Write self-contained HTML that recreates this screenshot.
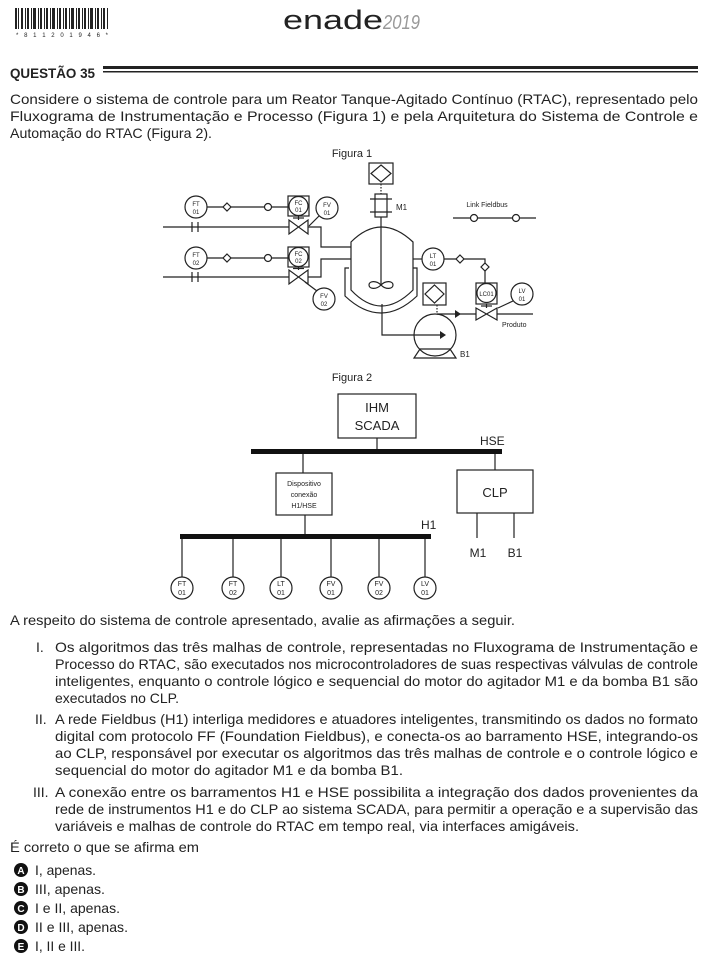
<!DOCTYPE html>
<html><head><meta charset="utf-8"><style>
html,body{margin:0;padding:0;background:#fff;}
svg{display:block;}
text{font-family:"Liberation Sans",sans-serif;fill:#222;}
</style></head><body>
<svg width="709" height="965" viewBox="0 0 709 965" xmlns="http://www.w3.org/2000/svg">
<g fill="#222">
<rect x="15" y="8" width="2" height="21"/><rect x="18" y="8" width="1" height="21"/><rect x="21" y="8" width="2" height="21"/><rect x="25" y="8" width="1" height="21"/><rect x="27" y="8" width="2" height="21"/><rect x="31" y="8" width="1" height="21"/><rect x="33" y="8" width="3" height="21"/><rect x="38" y="8" width="1" height="21"/><rect x="40" y="8" width="2" height="21"/><rect x="44" y="8" width="1" height="21"/><rect x="46" y="8" width="2" height="21"/><rect x="50" y="8" width="1" height="21"/><rect x="52" y="8" width="3" height="21"/><rect x="57" y="8" width="1" height="21"/><rect x="59" y="8" width="2" height="21"/><rect x="63" y="8" width="1" height="21"/><rect x="65" y="8" width="2" height="21"/><rect x="69" y="8" width="1" height="21"/><rect x="71" y="8" width="3" height="21"/><rect x="76" y="8" width="1" height="21"/><rect x="78" y="8" width="2" height="21"/><rect x="82" y="8" width="1" height="21"/><rect x="84" y="8" width="2" height="21"/><rect x="88" y="8" width="1" height="21"/><rect x="90" y="8" width="3" height="21"/><rect x="95" y="8" width="1" height="21"/><rect x="97" y="8" width="2" height="21"/><rect x="101" y="8" width="1" height="21"/><rect x="103" y="8" width="2" height="21"/><rect x="107" y="8" width="1" height="21"/>
</g>
<text x="16" y="37" font-size="6" textLength="92" lengthAdjust="spacing">* 8 1 1 2 0 1 9 4 6 *</text>
<text x="283" y="29" font-size="27" textLength="100" lengthAdjust="spacingAndGlyphs" style="fill:#222">enade</text>
<text x="383" y="29" font-size="20" font-style="italic" textLength="37" lengthAdjust="spacingAndGlyphs" style="fill:#999">2019</text>
<text x="10" y="78" font-size="14" font-weight="bold" textLength="85" lengthAdjust="spacingAndGlyphs">QUESTÃO 35</text>
<rect x="103" y="66" width="595" height="3" fill="#222"/>
<rect x="103" y="71" width="595" height="1.5" fill="#222"/>
<g font-size="14">
<text x="10" y="104" textLength="688" lengthAdjust="spacingAndGlyphs">Considere o sistema de controle para um Reator Tanque-Agitado Contínuo (RTAC), representado pelo</text>
<text x="10" y="121" textLength="688" lengthAdjust="spacingAndGlyphs">Fluxograma de Instrumentação e Processo (Figura 1) e pela Arquitetura do Sistema de Controle e</text>
<text x="10" y="138" textLength="202" lengthAdjust="spacingAndGlyphs">Automação do RTAC (Figura 2).</text>
</g>

<text x="352" y="157" font-size="11" text-anchor="middle">Figura 1</text>
<g stroke="#222" stroke-width="1.2" fill="none">
<rect x="369" y="163" width="24" height="21"/>
<polygon points="381,165 391,173.5 381,182 371,173.5"/>
<line x1="381" y1="184" x2="381" y2="194" stroke-dasharray="1.5,1.5"/>
<rect x="375" y="194" width="12" height="23"/>
<line x1="370" y1="199" x2="392" y2="199"/><line x1="370" y1="212" x2="392" y2="212"/>
<line x1="381" y1="217" x2="381" y2="284"/>
<path d="M381,285 C376,280 369,281 369,285 C369,289 376,290 381,285 C386,280 393,281 393,285 C393,289 386,290 381,285 Z"/>
<path d="M351,290 L351,242 Q381,212 413,242 L413,290 Q381,322 351,290 Z"/>
<path d="M349,268 L345,268 L345,296 Q381,330 417,296 L417,268 L413,268"/>
<line x1="163" y1="227" x2="289" y2="227"/>
<line x1="192" y1="222" x2="192" y2="232"/><line x1="198" y1="222" x2="198" y2="232"/>
<polygon points="289,220 289,234 308,220 308,234" />
<polyline points="308,227 321,227 321,247 351,247"/>
<line x1="163" y1="277" x2="289" y2="277"/>
<line x1="192" y1="272" x2="192" y2="282"/><line x1="198" y1="272" x2="198" y2="282"/>
<polygon points="289,270 289,284 308,270 308,284"/>
<polyline points="308,277 321,277 321,259 351,259"/>
<circle cx="196" cy="207" r="11" fill="#fff"/>
<line x1="207" y1="207" x2="288" y2="207"/>
<rect x="288" y="196" width="21" height="20" fill="#fff"/>
<circle cx="298.5" cy="206" r="9.5"/>
<line x1="298.5" y1="216" x2="298.5" y2="220"/><line x1="293" y1="218" x2="304" y2="218"/>
<circle cx="327" cy="208" r="11" fill="#fff"/>
<line x1="309" y1="226" x2="319" y2="216"/>
<circle cx="196" cy="258" r="11" fill="#fff"/>
<line x1="207" y1="258" x2="288" y2="258"/>
<rect x="288" y="247" width="21" height="20" fill="#fff"/>
<circle cx="298.5" cy="257" r="9.5"/>
<line x1="298.5" y1="267" x2="298.5" y2="270"/><line x1="293" y1="268.5" x2="304" y2="268.5"/>
<circle cx="324" cy="299" r="11" fill="#fff"/>
<line x1="305" y1="282" x2="317" y2="291"/>
<line x1="413" y1="259" x2="422" y2="259"/>
<circle cx="433" cy="259" r="11" fill="#fff"/>
<polyline points="444,259 485,259 485,283"/>
<rect x="476" y="283" width="21" height="21" fill="#fff"/>
<circle cx="486.5" cy="293" r="9.5"/>
<line x1="486.5" y1="304" x2="486.5" y2="308"/><line x1="481" y1="306" x2="492" y2="306"/>
<circle cx="522" cy="294" r="11" fill="#fff"/>
<line x1="498" y1="308" x2="513" y2="301"/>
<polygon points="476,308 476,320 497,308 497,320"/>
<line x1="437" y1="314" x2="476" y2="314"/><line x1="497" y1="314" x2="533" y2="314"/>
<rect x="423" y="283" width="23" height="22"/>
<polygon points="434.5,285 444,294 434.5,303 425,294"/>
<line x1="437" y1="305" x2="437" y2="314" stroke-dasharray="1.5,1.5"/>
<circle cx="435" cy="335" r="21"/>
<polygon points="420,349 450,349 456,358 414,358"/>
<polyline points="382,304 382,335 440,335"/>
<line x1="453" y1="218" x2="536" y2="218"/>
</g>
<g fill="#222">
<polygon points="440,331 446,335 440,339"/>
<polygon points="455,310 461,314 455,318"/>
</g>
<g stroke="#222" stroke-width="1.2" fill="#fff">
<polygon points="227,203 231,207 227,211 223,207"/>
<circle cx="268" cy="207" r="3.5"/>
<polygon points="227,254 231,258 227,262 223,258"/>
<circle cx="268" cy="258" r="3.5"/>
<polygon points="460,255 464,259 460,263 456,259"/>
<polygon points="485,263 489,267 485,271 481,267"/>
<circle cx="474" cy="218" r="3.5"/>
<circle cx="516" cy="218" r="3.5"/>
</g>
<g font-size="6" text-anchor="middle">
<text x="196" y="206">FT</text><text x="196" y="214">01</text>
<text x="298.5" y="205">FC</text><text x="298.5" y="212">01</text>
<text x="327" y="207">FV</text><text x="327" y="215">01</text>
<text x="196" y="257">FT</text><text x="196" y="265">02</text>
<text x="298.5" y="256">FC</text><text x="298.5" y="263">02</text>
<text x="324" y="298">FV</text><text x="324" y="306">02</text>
<text x="433" y="258">LT</text><text x="433" y="266">01</text>
<text x="486.5" y="296">LC01</text>
<text x="522" y="293">LV</text><text x="522" y="301">01</text>
</g>
<text x="396" y="210" font-size="8">M1</text>
<text x="487" y="207" font-size="7" text-anchor="middle">Link Fieldbus</text>
<text x="502" y="327" font-size="7">Produto</text>
<text x="460" y="357" font-size="8">B1</text>

<text x="352" y="381" font-size="11" text-anchor="middle">Figura 2</text>
<g stroke="#222" stroke-width="1.2" fill="none">
<rect x="338" y="394" width="78" height="44"/>
<line x1="377" y1="438" x2="377" y2="451"/>
<line x1="303" y1="451" x2="303" y2="473"/>
<rect x="276" y="473" width="56" height="42"/>
<line x1="305" y1="515" x2="305" y2="536"/>
<line x1="495" y1="451" x2="495" y2="470"/>
<rect x="457" y="470" width="76" height="43"/>
<line x1="477" y1="513" x2="477" y2="538"/>
<line x1="514" y1="513" x2="514" y2="538"/>
<line x1="182" y1="536" x2="182" y2="577"/>
<line x1="233" y1="536" x2="233" y2="577"/>
<line x1="281" y1="536" x2="281" y2="577"/>
<line x1="331" y1="536" x2="331" y2="577"/>
<line x1="379" y1="536" x2="379" y2="577"/>
<line x1="425" y1="536" x2="425" y2="577"/>
<circle cx="182" cy="588" r="11"/><circle cx="233" cy="588" r="11"/><circle cx="281" cy="588" r="11"/>
<circle cx="331" cy="588" r="11"/><circle cx="379" cy="588" r="11"/><circle cx="425" cy="588" r="11"/>
</g>
<rect x="251" y="449" width="251" height="5" fill="#111"/>
<rect x="180" y="534" width="251" height="5" fill="#111"/>
<g font-size="13" text-anchor="middle">
<text x="377" y="412">IHM</text><text x="377" y="430">SCADA</text>
<text x="495" y="497">CLP</text>
</g>
<text x="480" y="445" font-size="12">HSE</text>
<text x="421" y="529" font-size="12">H1</text>
<text x="478" y="557" font-size="12" text-anchor="middle">M1</text>
<text x="515" y="557" font-size="12" text-anchor="middle">B1</text>
<g font-size="7" text-anchor="middle">
<text x="304" y="486">Dispositivo</text><text x="304" y="497">conexão</text><text x="304" y="508">H1/HSE</text>
<text x="182" y="586">FT</text><text x="182" y="595">01</text>
<text x="233" y="586">FT</text><text x="233" y="595">02</text>
<text x="281" y="586">LT</text><text x="281" y="595">01</text>
<text x="331" y="586">FV</text><text x="331" y="595">01</text>
<text x="379" y="586">FV</text><text x="379" y="595">02</text>
<text x="425" y="586">LV</text><text x="425" y="595">01</text>
</g>

<g font-size="14">
<text x="10" y="625" textLength="505" lengthAdjust="spacingAndGlyphs">A respeito do sistema de controle apresentado, avalie as afirmações a seguir.</text>
<text x="36" y="652">I.</text>
<text x="55" y="652" textLength="643" lengthAdjust="spacingAndGlyphs">Os algoritmos das três malhas de controle, representadas no Fluxograma de Instrumentação e</text>
<text x="55" y="669" textLength="643" lengthAdjust="spacingAndGlyphs">Processo do RTAC, são executados nos microcontroladores de suas respectivas válvulas de controle</text>
<text x="55" y="686" textLength="643" lengthAdjust="spacingAndGlyphs">inteligentes, enquanto o controle lógico e sequencial do motor do agitador M1 e da bomba B1 são</text>
<text x="55" y="703" textLength="124" lengthAdjust="spacingAndGlyphs">executados no CLP.</text>
<text x="35" y="724">II.</text>
<text x="55" y="724" textLength="643" lengthAdjust="spacingAndGlyphs">A rede Fieldbus (H1) interliga medidores e atuadores inteligentes, transmitindo os dados no formato</text>
<text x="55" y="741" textLength="643" lengthAdjust="spacingAndGlyphs">digital com protocolo FF (Foundation Fieldbus), e conecta-os ao barramento HSE, integrando-os</text>
<text x="55" y="758" textLength="643" lengthAdjust="spacingAndGlyphs">ao CLP, responsável por executar os algoritmos das três malhas de controle e o controle lógico e</text>
<text x="55" y="775" textLength="348" lengthAdjust="spacingAndGlyphs">sequencial do motor do agitador M1 e da bomba B1.</text>
<text x="33" y="797">III.</text>
<text x="55" y="797" textLength="643" lengthAdjust="spacingAndGlyphs">A conexão entre os barramentos H1 e HSE possibilita a integração dos dados provenientes da</text>
<text x="55" y="814" textLength="643" lengthAdjust="spacingAndGlyphs">rede de instrumentos H1 e do CLP ao sistema SCADA, para permitir a operação e a supervisão das</text>
<text x="55" y="831" textLength="524" lengthAdjust="spacingAndGlyphs">variáveis e malhas de controle do RTAC em tempo real, via interfaces amigáveis.</text>
<text x="10" y="852" textLength="189" lengthAdjust="spacingAndGlyphs">É correto o que se afirma em</text>
<text x="35" y="875" textLength="61" lengthAdjust="spacingAndGlyphs">I, apenas.</text>
<text x="35" y="894" textLength="70" lengthAdjust="spacingAndGlyphs">III, apenas.</text>
<text x="35" y="913" textLength="85" lengthAdjust="spacingAndGlyphs">I e II, apenas.</text>
<text x="35" y="932" textLength="93" lengthAdjust="spacingAndGlyphs">II e III, apenas.</text>
<text x="35" y="951" textLength="50" lengthAdjust="spacingAndGlyphs">I, II e III.</text>
</g>
<g fill="#111">
<circle cx="21" cy="870" r="7"/><circle cx="21" cy="889" r="7"/><circle cx="21" cy="908" r="7"/><circle cx="21" cy="927" r="7"/><circle cx="21" cy="946" r="7"/>
</g>
<g font-size="10" font-weight="bold" text-anchor="middle">
<text x="21" y="874" style="fill:#fff">A</text><text x="21" y="893" style="fill:#fff">B</text><text x="21" y="912" style="fill:#fff">C</text><text x="21" y="931" style="fill:#fff">D</text><text x="21" y="950" style="fill:#fff">E</text>
</g>
</svg>
</body></html>
